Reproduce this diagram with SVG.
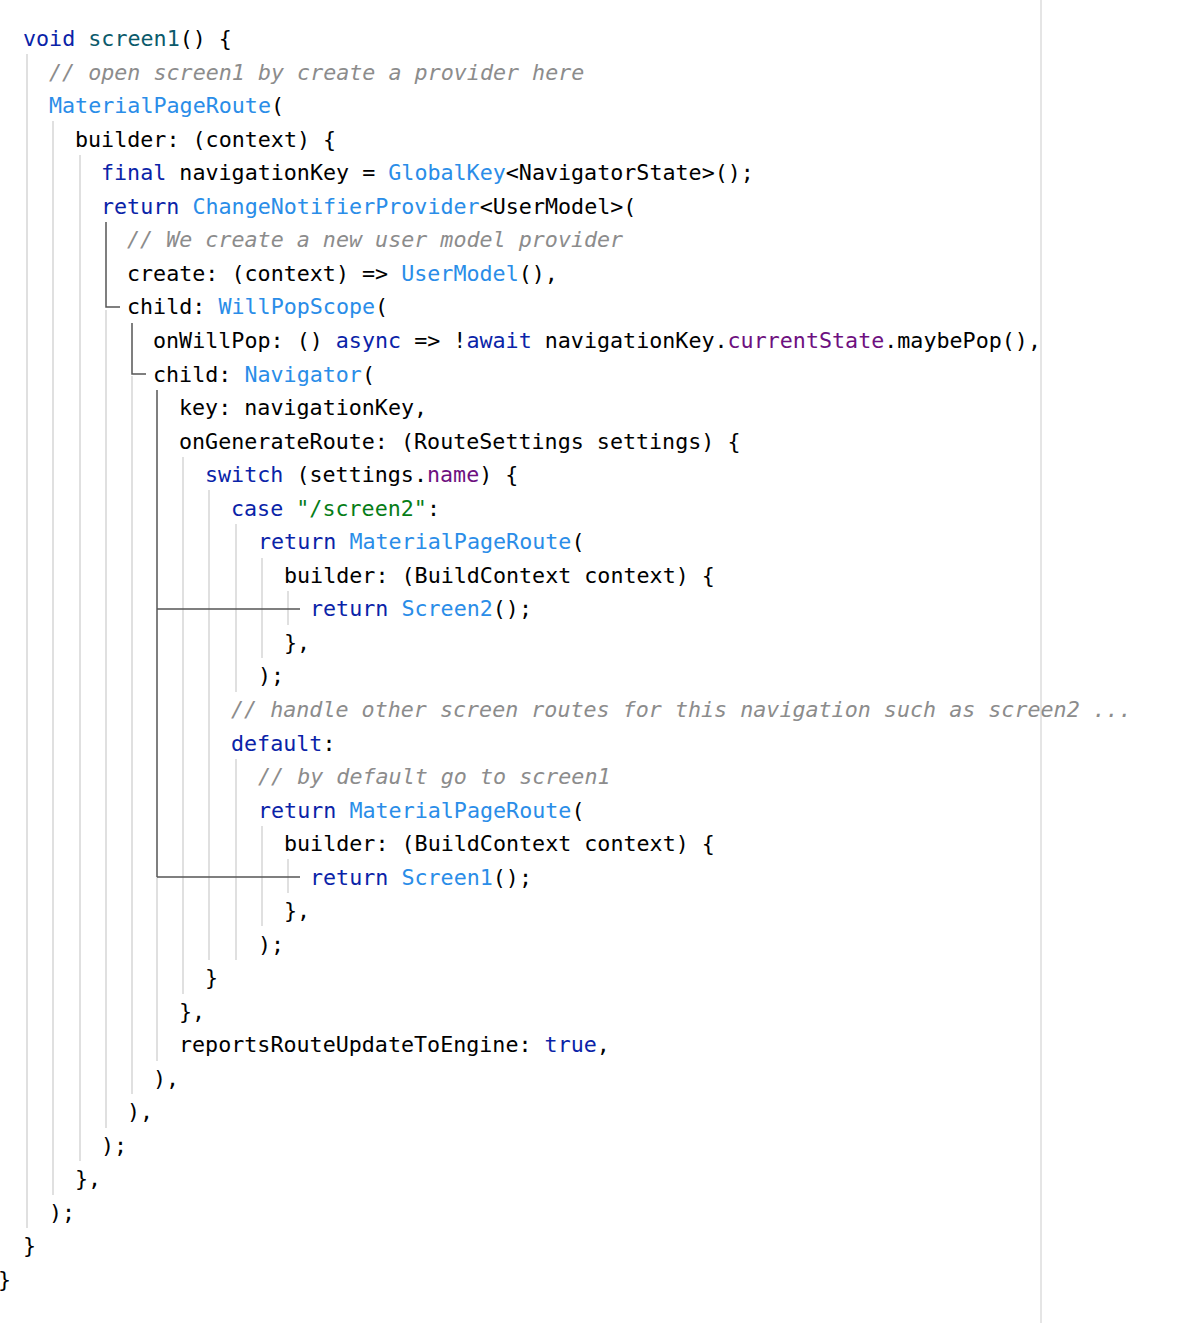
<svg xmlns="http://www.w3.org/2000/svg" width="1200" height="1323" viewBox="0 0 1200 1323">
<style>
text{font-family:"DejaVu Sans Mono","Liberation Mono",monospace;font-size:21.7px;fill:#000;white-space:pre}
.k{fill:#0a23a8}.f{fill:#0b5a6b}.c{fill:#2a8de8}.m{fill:#8c8c8c;font-style:italic}.s{fill:#067d17}.p{fill:#6e1080}
.g{stroke:#d6d6d6;stroke-width:1.5;fill:none}.d{stroke:#555;stroke-width:1.5;fill:none}
</style>
<rect width="1200" height="1323" fill="#fff"/>
<line x1="1041" y1="0" x2="1041" y2="1323" stroke="#dcdcdc" stroke-width="1.5"/>
<g id="guides">
<line class="g" x1="27" y1="54" x2="27" y2="1228"/>
<line class="g" x1="53" y1="121" x2="53" y2="1195"/>
<line class="g" x1="80" y1="155" x2="80" y2="1161"/>
<line class="g" x1="106" y1="310" x2="106" y2="1128"/>
<line class="g" x1="132" y1="376" x2="132" y2="1094"/>
<line class="g" x1="157" y1="877" x2="157" y2="1061"/>
<line class="g" x1="183" y1="457" x2="183" y2="994"/>
<line class="g" x1="209" y1="490" x2="209" y2="960"/>
<line class="g" x1="236" y1="524" x2="236" y2="692"/>
<line class="g" x1="236" y1="759" x2="236" y2="960"/>
<line class="g" x1="262" y1="558" x2="262" y2="658"/>
<line class="g" x1="262" y1="826" x2="262" y2="926"/>
<line class="g" x1="288" y1="591" x2="288" y2="625"/>
<line class="g" x1="288" y1="859" x2="288" y2="893"/>
<path class="d" d="M106 222V307H120"/>
<path class="d" d="M132 323V374H146"/>
<path class="d" d="M157 390V877M157 609H300M157 877H300"/>
</g>
<g id="code">
<text x="23" y="46"><tspan class="k">void</tspan> <tspan class="f">screen1</tspan>() {</text>
<text x="49" y="80" class="m">// open screen1 by create a provider here</text>
<text x="49" y="113"><tspan class="c">MaterialPageRoute</tspan>(</text>
<text x="75" y="147">builder: (context) {</text>
<text x="101" y="180"><tspan class="k">final</tspan> navigationKey = <tspan class="c">GlobalKey</tspan>&lt;NavigatorState&gt;();</text>
<text x="101" y="214"><tspan class="k">return</tspan> <tspan class="c">ChangeNotifierProvider</tspan>&lt;UserModel&gt;(</text>
<text x="127" y="247" class="m">// We create a new user model provider</text>
<text x="127" y="281">create: (context) =&gt; <tspan class="c">UserModel</tspan>(),</text>
<text x="127" y="314">child: <tspan class="c">WillPopScope</tspan>(</text>
<text x="153" y="348">onWillPop: () <tspan class="k">async</tspan> =&gt; !<tspan class="k">await</tspan> navigationKey.<tspan class="p">currentState</tspan>.maybePop(),</text>
<text x="153" y="382">child: <tspan class="c">Navigator</tspan>(</text>
<text x="179" y="415">key: navigationKey,</text>
<text x="179" y="449">onGenerateRoute: (RouteSettings settings) {</text>
<text x="205" y="482"><tspan class="k">switch</tspan> (settings.<tspan class="p">name</tspan>) {</text>
<text x="231" y="516"><tspan class="k">case</tspan> <tspan class="s">"/screen2"</tspan>:</text>
<text x="258" y="549"><tspan class="k">return</tspan> <tspan class="c">MaterialPageRoute</tspan>(</text>
<text x="284" y="583">builder: (BuildContext context) {</text>
<text x="310" y="616"><tspan class="k">return</tspan> <tspan class="c">Screen2</tspan>();</text>
<text x="284" y="650">},</text>
<text x="258" y="683">);</text>
<text x="231" y="717" class="m">// handle other screen routes for this navigation such as screen2 ...</text>
<text x="231" y="751"><tspan class="k">default</tspan>:</text>
<text x="258" y="784" class="m">// by default go to screen1</text>
<text x="258" y="818"><tspan class="k">return</tspan> <tspan class="c">MaterialPageRoute</tspan>(</text>
<text x="284" y="851">builder: (BuildContext context) {</text>
<text x="310" y="885"><tspan class="k">return</tspan> <tspan class="c">Screen1</tspan>();</text>
<text x="284" y="918">},</text>
<text x="258" y="952">);</text>
<text x="205" y="985">}</text>
<text x="179" y="1019">},</text>
<text x="179" y="1052">reportsRouteUpdateToEngine: <tspan class="k">true</tspan>,</text>
<text x="153" y="1086">),</text>
<text x="127" y="1119">),</text>
<text x="101" y="1153">);</text>
<text x="75" y="1186">},</text>
<text x="49" y="1220">);</text>
<text x="23" y="1253">}</text>
<text x="-2" y="1287">}</text>
</g>
</svg>
